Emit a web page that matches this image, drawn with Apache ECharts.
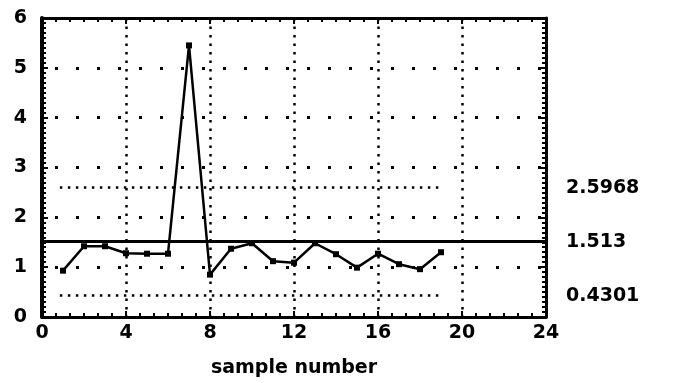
<!DOCTYPE html>
<html>
<head>
<meta charset="utf-8">
<script src="https://cdn.jsdelivr.net/npm/echarts@6/dist/echarts.min.js"></script>
<style>
  html, body { margin: 0; padding: 0; background: #fff; }
  #chart { width: 688px; height: 383px; }
</style>
</head>
<body>
<div id="chart"></div>
<script>
// sample number vs. measured value
const sampleNo = [1, 2, 3, 4, 5, 6, 7, 8, 9, 10, 11, 12, 13, 14, 15, 16, 17, 18, 19];
const measured = [0.93, 1.42, 1.42, 1.28, 1.27, 1.27, 5.45, 0.85, 1.37, 1.48,
                  1.12, 1.09, 1.48, 1.26, 0.99, 1.27, 1.06, 0.96, 1.30];

// control lines: upper limit, centre line, lower limit
const upperLimit = 2.5968;
const centreLine = 1.513;
const lowerLimit = 0.4301;
const limitSpan = [0.85, 18.95];

const xTicks = [0, 4, 8, 12, 16, 20, 24];
const yTicks = [0, 1, 2, 3, 4, 5, 6];

const labelFont = {
  color: '#000',
  fontFamily: 'DejaVu Sans',
  fontWeight: 'bold',
  fontSize: 19
};

const chart = echarts.init(document.getElementById('chart'));

const frameLine = { show: true, onZero: false, lineStyle: { color: '#000', width: 3 } };
const tickStyle = { color: '#000', width: 2 };
const hidden = { color: 'rgba(0,0,0,0)', width: 1, type: 'solid' };

const option = {
  animation: false,
  backgroundColor: '#fff',
  grid: { left: 42, right: 142, top: 18, bottom: 61 },
  xAxis: [
    {
      type: 'value',
      min: xTicks[0],
      max: xTicks[xTicks.length - 1],
      interval: 4,
      name: 'sample number',
      nameLocation: 'middle',
      nameGap: 42,
      nameTextStyle: labelFont,
      axisLine: frameLine,
      axisTick: { show: true, inside: true, length: 6, lineStyle: tickStyle },
      minorTick: { show: true, splitNumber: 6, length: 4, lineStyle: tickStyle },
      axisLabel: Object.assign({ margin: 7 }, labelFont),
      splitLine: { show: true, lineStyle: { color: '#000', width: 2.5, type: [2.5, 6] } }
    },
    {
      type: 'value',
      position: 'top',
      min: xTicks[0],
      max: xTicks[xTicks.length - 1],
      interval: 4,
      axisLine: frameLine,
      axisTick: { show: true, inside: true, length: 6, lineStyle: tickStyle },
      minorTick: { show: true, splitNumber: 6, length: 4, lineStyle: tickStyle },
      axisLabel: { show: false },
      splitLine: { show: false }
    }
  ],
  yAxis: [
    {
      type: 'value',
      min: yTicks[0],
      max: yTicks[yTicks.length - 1],
      interval: 1,
      axisLine: { show: true, onZero: false, lineStyle: { color: '#000', width: 4 } },
      axisTick: { show: true, inside: true, length: 6, lineStyle: tickStyle },
      minorTick: { show: true, splitNumber: 10, length: 4, lineStyle: tickStyle },
      axisLabel: Object.assign({ margin: 15 }, labelFont),
      splitLine: { show: true, lineStyle: { color: '#000', width: 3, type: [3, 18], dashOffset: 8 } }
    },
    {
      type: 'value',
      position: 'right',
      min: yTicks[0],
      max: yTicks[yTicks.length - 1],
      interval: 1,
      axisLine: frameLine,
      axisTick: { show: true, inside: true, length: 6, lineStyle: tickStyle },
      minorTick: { show: true, splitNumber: 10, length: 4, lineStyle: tickStyle },
      axisLabel: { show: false },
      splitLine: { show: false }
    }
  ],
  series: [
    {
      // control lines
      type: 'line',
      data: [],
      silent: true,
      markLine: {
        silent: true,
        symbol: 'none',
        animation: false,
        label: Object.assign({
          show: true,
          position: 'end',
          distance: 20,
          formatter: '{b}'
        }, labelFont),
        data: [
          [
            { coord: [limitSpan[0], upperLimit], lineStyle: { color: '#000', width: 2.5, type: [2.5, 5.5] }, label: { show: false } },
            { coord: [limitSpan[1], upperLimit] }
          ],
          [
            { coord: [limitSpan[0], lowerLimit], lineStyle: { color: '#000', width: 2.5, type: [2.5, 5.5] }, label: { show: false } },
            { coord: [limitSpan[1], lowerLimit] }
          ],
          [
            { name: String(centreLine), coord: [xTicks[0], centreLine], lineStyle: { color: '#000', width: 3, type: 'solid' } },
            { coord: [xTicks[xTicks.length - 1], centreLine] }
          ],
          [
            { name: String(upperLimit), coord: [xTicks[0], upperLimit], lineStyle: hidden },
            { coord: [xTicks[xTicks.length - 1], upperLimit] }
          ],
          [
            { name: String(lowerLimit), coord: [xTicks[0], lowerLimit], lineStyle: hidden },
            { coord: [xTicks[xTicks.length - 1], lowerLimit] }
          ]
        ]
      }
    },
    {
      type: 'line',
      data: sampleNo.map((x, i) => [x, measured[i]]),
      symbol: 'rect',
      symbolSize: 6,
      showSymbol: true,
      lineStyle: { color: '#000', width: 2.5 },
      itemStyle: { color: '#000' },
      z: 5
    }
  ]
};

chart.setOption(option);
</script>
</body>
</html>
